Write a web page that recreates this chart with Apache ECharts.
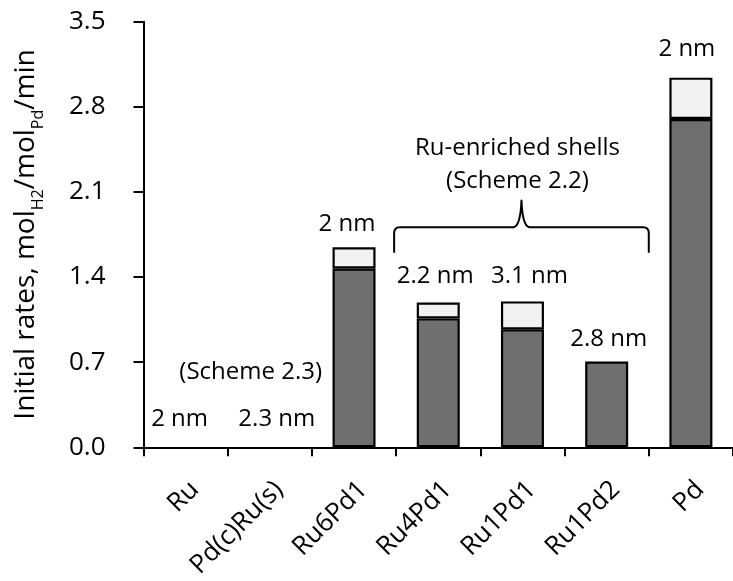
<!DOCTYPE html>
<html>
<head>
<meta charset="utf-8">
<script src="https://cdn.jsdelivr.net/npm/echarts@6/dist/echarts.min.js"></script>
<style>
  html, body { margin: 0; padding: 0; background: #fff; }
  #chart { width: 733px; height: 581px; }
</style>
</head>
<body>
<div id="chart"></div>
<script>
// Catalysts on the x axis
const catalysts = ['Ru', 'Pd(c)Ru(s)', 'Ru6Pd1', 'Ru4Pd1', 'Ru1Pd1', 'Ru1Pd2', 'Pd'];
// Initial rate, lower (dark) segment of each bar
const baseRates = [0, 0, 1.47, 1.06, 0.97, 0.705, 2.70];
// Additional rate stacked on top (light segment)
const extraRates = [0, 0, 0.175, 0.13, 0.23, 0, 0.34];
// Particle size written above each bar
const particleSizes = ['2 nm', '2.3 nm', '2 nm', '2.2 nm', '3.1 nm', '2.8 nm', '2 nm'];
// Y-axis ticks
const yTicks = { min: 0, max: 3.5, step: 0.7 };

// Hand placement of the size labels (dx, dy in px)
const sizeLabelShift = [[-6, -16], [7, -16], [-7, -11], [-3, -14.5], [7, -13], [2, -10.5], [-4, -16]];

const FONT = 'Open Sans';
const chart = echarts.init(document.getElementById('chart'), null, { renderer: 'canvas' });

const lineStyle = { color: '#000', width: 2 };

// Zero-height segments get no outline so nothing is drawn over the axis
function segment(v, extra) {
  const item = { value: v };
  if (v === 0) item.itemStyle = { borderWidth: 0 };
  return Object.assign(item, extra || {});
}

chart.setOption({
  animation: false,
  backgroundColor: '#fff',
  textStyle: { fontFamily: FONT, color: '#000' },
  grid: { left: 143.5, top: 21.7, bottom: 131.5, right: -7.3, containLabel: false },
  xAxis: {
    type: 'category',
    data: catalysts,
    axisLine: { show: true, lineStyle },
    axisTick: { show: true, length: 9, alignWithLabel: false, lineStyle },
    axisLabel: {
      interval: 0, rotate: 45, margin: 29,
      verticalAlign: 'top', align: 'right',
      fontFamily: FONT, fontSize: 26, color: '#000'
    },
    splitLine: { show: false }
  },
  yAxis: {
    type: 'value',
    min: yTicks.min, max: yTicks.max, interval: yTicks.step,
    axisLine: { show: true, lineStyle },
    axisTick: { show: true, length: 10, lineStyle },
    axisLabel: {
      margin: 38, fontFamily: FONT, fontSize: 26, color: '#000',
      formatter: v => v.toFixed(1)
    },
    splitLine: { show: false },
    name: '{m|Initial rates, mol}{s|H2}{m|/mol}{s|Pd}{m|/min}',
    nameLocation: 'middle',
    nameRotate: 90,
    nameGap: 101,
    nameTextStyle: {
      rich: {
        m: { fontFamily: FONT, fontSize: 28, color: '#000', lineHeight: 32 },
        s: { fontFamily: FONT, fontSize: 16, color: '#000', verticalAlign: 'bottom', lineHeight: 32, padding: [0, 0, -4, 0] }
      }
    }
  },
  series: [
    {
      name: 'base',
      type: 'bar',
      stack: 'rate',
      barWidth: 43,
      data: baseRates.map(v => segment(v)),
      itemStyle: { color: '#6f6f6f', borderColor: '#000', borderWidth: 2.2 }
    },
    {
      name: 'extra',
      type: 'bar',
      stack: 'rate',
      barWidth: 43,
      data: extraRates.map((v, i) => segment(v, { label: { offset: sizeLabelShift[i] } })),
      itemStyle: { color: '#f2f2f2', borderColor: '#000', borderWidth: 2.2 },
      label: {
        show: true,
        position: 'top',
        distance: 0,
        fontFamily: FONT,
        fontSize: 24,
        lineHeight: 24,
        color: '#000',
        formatter: p => particleSizes[p.dataIndex]
      }
    }
  ]
});

// Annotations: curly brace over the Ru-enriched shell catalysts and the scheme notes
function px(cat, val) {
  return chart.convertToPixel({ gridIndex: 0 }, [cat, val]);
}
const band = px(1, 0)[0] - px(0, 0)[0];
const x0 = px(3, 0)[0] - band / 2 - 2;
const x1 = px(5, 0)[0] + band / 2;
const xc = (x0 + x1) / 2;
const yLine = px(0, 1.81)[1];
const yEnd = px(0, 1.60)[1];
const yTip = px(0, 2.03)[1];
const r = 6;

// Sample a quadratic curve into polyline points
function quad(p0, c, p1, n) {
  const out = [];
  for (let k = 1; k <= n; k++) {
    const t = k / n, u = 1 - t;
    out.push([u * u * p0[0] + 2 * u * t * c[0] + t * t * p1[0],
              u * u * p0[1] + 2 * u * t * c[1] + t * t * p1[1]]);
  }
  return out;
}
let brace = [[x0, yEnd], [x0, yLine + r]];
brace = brace.concat(quad([x0, yLine + r], [x0, yLine], [x0 + r, yLine], 6));
brace.push([xc - 8, yLine]);
brace = brace.concat(quad([xc - 8, yLine], [xc - 1, yLine - 1], [xc, yTip], 8));
brace = brace.concat(quad([xc, yTip], [xc + 1, yLine - 1], [xc + 8, yLine], 8));
brace.push([x1 - r, yLine]);
brace = brace.concat(quad([x1 - r, yLine], [x1, yLine], [x1, yLine + r], 6));
brace.push([x1, yEnd]);

const schemeA = px(0, 0.62);
const schemeB = px(0, 2.326);

chart.setOption({
  graphic: [
    {
      type: 'polyline',
      shape: { points: brace },
      style: { fill: null, stroke: '#000', lineWidth: 2, lineJoin: 'round' },
      z: 10
    },
    {
      type: 'text',
      x: xc - 4,
      y: schemeB[1],
      style: {
        text: 'Ru-enriched shells\n(Scheme 2.2)',
        fontFamily: FONT, fontSize: 24, lineHeight: 33,
        fill: '#000', align: 'center', verticalAlign: 'middle'
      },
      z: 10
    },
    {
      type: 'text',
      x: px(0, 0)[0] + band / 2 + 23,
      y: schemeA[1],
      style: {
        text: '(Scheme 2.3)',
        fontFamily: FONT, fontSize: 24,
        fill: '#000', align: 'center', verticalAlign: 'middle'
      },
      z: 10
    }
  ]
});
</script>
</body>
</html>
